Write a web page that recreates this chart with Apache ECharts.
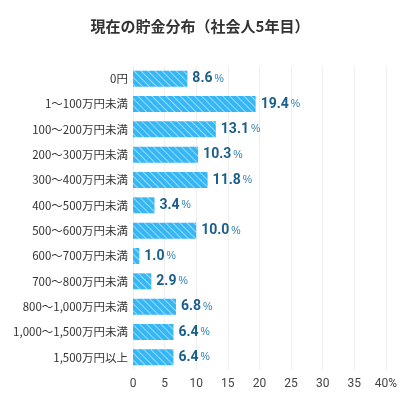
<!DOCTYPE html><html><head><meta charset="utf-8"><script src="https://cdn.jsdelivr.net/npm/echarts@6/dist/echarts.min.js"></script></head><body style="margin:0"><div id="c" style="width:400px;height:400px"></div><script>
const categories=["0円","1〜100万円未満","100〜200万円未満","200〜300万円未満","300〜400万円未満","400〜500万円未満","500〜600万円未満","600〜700万円未満","700〜800万円未満","800〜1,000万円未満","1,000〜1,500万円未満","1,500万円以上"];
const values=[8.6,19.4,13.1,10.3,11.8,3.4,10.0,1.0,2.9,6.8,6.4,6.4];
const xTicks=[0,5,10,15,20,25,30,35,40];
const ch=echarts.init(document.getElementById('c'));
ch.setOption({
title:{text:'現在の貯金分布（社会人5年目）',left:'center',top:14,textStyle:{fontSize:15,fontWeight:'bold',color:'#333',fontFamily:'Noto Sans CJK JP'}},
grid:{left:133,right:14,top:66,bottom:30},
xAxis:{type:'value',min:0,max:40,interval:5,axisLine:{show:false},axisTick:{show:false},
 splitLine:{lineStyle:{color:'#eee'}},
 axisLabel:{color:'#444',fontSize:12,fontFamily:'Roboto',formatter:v=>v===40?'40%':String(v)}},
yAxis:{type:'category',inverse:true,data:categories,axisLine:{show:false},axisTick:{show:false},
 axisLabel:{color:'#333',fontSize:11.5,fontFamily:'Noto Sans CJK JP',margin:5}},
series:[{type:'bar',data:values,barWidth:16,
 itemStyle:{color:'#35b7f6',decal:{symbol:'rect',color:'rgba(255,255,255,0.5)',dashArrayX:[1,0],dashArrayY:[1,4],rotation:Math.PI/4}},
 label:{show:true,position:'right',distance:5,formatter:p=>'{a|'+p.value.toFixed(1)+'}{b|%}',
  rich:{a:{fontSize:14,fontWeight:'bold',color:'#1a5e8a',fontFamily:'Roboto'},b:{fontSize:10.5,color:'#2d7fb0',padding:[0,0,0,2]}}}}]
});
</script></body></html>
